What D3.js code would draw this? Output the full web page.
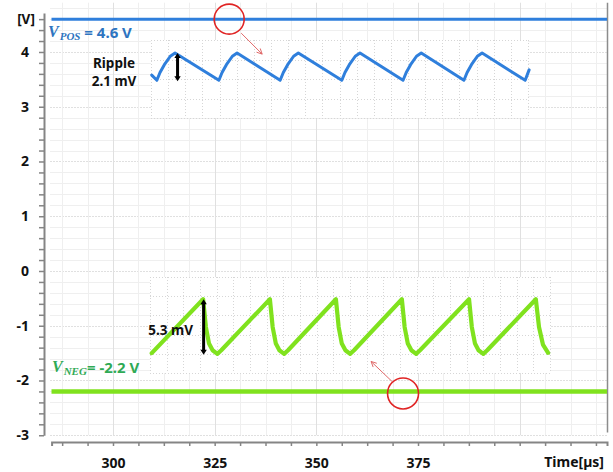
<!DOCTYPE html>
<html>
<head>
<meta charset="utf-8">
<script src="https://cdn.jsdelivr.net/npm/d3@7"></script>
<style>
  html, body { margin: 0; padding: 0; background: #fff; }
  svg { display: block; }
  text { font-family: "Noto Sans", "Open Sans", sans-serif; font-weight: 700; fill: #111; }
</style>
</head>
<body>
<svg id="chart" width="613" height="472"></svg>
<script>
// Supply rails
const railNames = ["POS", "NEG"];
const railVoltages = [4.6, -2.2];          // V
// Peak-to-peak ripple measured on each rail
const rippleAmplitudes = [2.1, 5.3];       // mV
// Labelled axis ticks
const yTickValues = [-3, -2, -1, 0, 1, 2, 3, 4];
const xTickValues = [300, 325, 350, 375];
// Magnified ripple traces: [time in µs, mV above the ripple trough]
const posRipple = [
  [309.52, 0.40], [310.79, 0.00], [311.56, 0.60], [312.63, 1.20], [314.09, 1.85], [315.26, 2.10],
  [326.04, 0.00], [326.82, 0.60], [327.89, 1.20], [329.35, 1.85], [330.51, 2.10],
  [341.10, 0.00], [341.88, 0.60], [342.95, 1.20], [344.41, 1.85], [345.57, 2.10],
  [356.26, 0.00], [357.04, 0.60], [358.11, 1.20], [359.57, 1.85], [360.73, 2.10],
  [371.32, 0.00], [372.10, 0.60], [373.17, 1.20], [374.63, 1.85], [375.79, 2.10],
  [386.29, 0.00], [387.07, 0.60], [388.14, 1.20], [389.59, 1.85], [390.76, 2.10],
  [401.35, 0.00], [402.32, 0.80]
];
const negRipple = [
  [309.52, 0.07],
  [322.16, 5.30], [322.84, 2.60], [323.61, 1.00], [324.49, 0.35], [325.65, 0.00], [326.63, 0.35],
  [338.58, 5.30], [339.26, 2.60], [340.04, 1.00], [340.91, 0.35], [342.08, 0.00], [343.05, 0.35],
  [354.81, 5.30], [355.49, 2.60], [356.26, 1.00], [357.14, 0.35], [358.30, 0.00], [359.28, 0.35],
  [371.03, 5.30], [371.71, 2.60], [372.49, 1.00], [373.37, 0.35], [374.53, 0.00], [375.50, 0.35],
  [387.55, 5.30], [388.23, 2.60], [389.01, 1.00], [389.88, 0.35], [391.05, 0.00], [392.02, 0.35],
  [403.97, 5.30], [404.75, 2.60], [405.72, 0.90], [406.99, 0.10]
];
// Times at which the rails are highlighted
const highlightTimes = [328.57, 371.32];   // µs

const svg = d3.select("#chart");
const blue = "#2f7fdc", green = "#80e21e", red = "#e02424";
const posLabelColor = "#2e74c0", negLabelColor = "#2faa55";

// Main scales
const x = d3.scaleLinear().domain([284.51, 421.47]).range([50, 607]);
const y = d3.scaleLinear().domain([-3, 4.9]).range([435.25, 2.7]);

// ---- background grid ----
const grid = svg.append("g");
const hLines = d3.range(0, 40).map(i => +(-3 + i * 0.2).toFixed(1));
grid.selectAll("line.h").data(hLines).join("line")
  .attr("x1", 50).attr("x2", 607)
  .attr("y1", d => Math.round(y(d)) + 0.5).attr("y2", d => Math.round(y(d)) + 0.5)
  .attr("stroke", d => Number.isInteger(d) ? "#e0e0e0" : "#efefef")
  .attr("stroke-dasharray", d => Number.isInteger(d) ? "2,1" : null);
const tickTimes = d3.range(0, 22).map(i => 287.5 + i * 6.25);
grid.selectAll("line.v").data(tickTimes).join("line")
  .attr("y1", y(4.9)).attr("y2", y(-3))
  .attr("x1", d => Math.round(x(d)) + 0.5).attr("x2", d => Math.round(x(d)) + 0.5)
  .attr("stroke", d => d % 25 === 0 ? "#e0e0e0" : "#efefef");

// right frame line
svg.append("line")
  .attr("x1", 607.5).attr("x2", 607.5).attr("y1", y(4.9)).attr("y2", y(-2.95))
  .attr("stroke", "#8c8c8c").attr("stroke-width", 1.5);

// ---- axes ----
const yAxisScale = y.copy().domain([-3, 4.71]).range([y(-3), y(4.71)]);
const yAxis = d3.axisLeft(yAxisScale)
  .tickValues(d3.range(0, 39).map(i => -3 + i * 0.2))
  .tickSize(5).tickSizeOuter(0).tickPadding(10)
  .tickFormat(d => {
    const r = Math.round(d);
    return Math.abs(d - r) < 1e-6 && yTickValues.includes(r) ? String(r) : "";
  });
const gy = svg.append("g").attr("transform", "translate(44,0)").call(yAxis);
gy.select(".domain").attr("stroke", "#858585").attr("stroke-width", 2);
gy.selectAll(".tick line").attr("stroke", "#858585").attr("stroke-width", 1.5);
gy.selectAll(".tick text").attr("font-size", 14).attr("fill", "#111")
  .attr("font-family", "'Noto Sans', sans-serif").attr("font-weight", 700);
svg.append("text").attr("x", 26).attr("y", y(4.6) + 5)
  .attr("text-anchor", "middle").attr("font-size", 13.5).text("[V]");

const xAxisScale = x.copy().domain([284.9, 421.47]).range([x(284.9), x(421.47)]);
const xAxis = d3.axisBottom(xAxisScale)
  .tickValues(tickTimes)
  .tickSize(4).tickSizeOuter(4).tickPadding(12)
  .tickFormat(d => xTickValues.includes(d) ? String(d) : "");
const gx = svg.append("g").attr("transform", "translate(0,442)").call(xAxis);
gx.select(".domain").attr("stroke", "#858585").attr("stroke-width", 2).attr("fill", "none");
gx.selectAll(".tick line").attr("stroke", "#858585").attr("stroke-width", 1.5);
gx.selectAll(".tick text").attr("font-size", 14).attr("fill", "#111")
  .attr("font-family", "'Noto Sans', sans-serif").attr("font-weight", 700);
svg.append("text").attr("x", 604).attr("y", 467)
  .attr("text-anchor", "end").attr("font-size", 14).text("Time[µs]");

// ---- magnified ripple insets ----
const insetSpecs = [
  { data: posRipple, amp: rippleAmplitudes[0], color: blue, width: 3,
    box: [151, 40, 528, 118], mv: [-2.9, 3.1], cols: 22, rows: 4, arrowDx: 2.5 },
  { data: negRipple, amp: rippleAmplitudes[1], color: green, width: 4.2,
    box: [150, 277, 550, 373], mv: [-1.86, 7.46], cols: 24, rows: 5, arrowDx: 0.5 }
];

insetSpecs.forEach(s => {
  const [bx0, by0, bx1, by1] = s.box;
  const iy = d3.scaleLinear().domain(s.mv).range([by1, by0]);
  const g = svg.append("g");
  g.append("rect").attr("x", bx0).attr("y", by0)
    .attr("width", bx1 - bx0).attr("height", by1 - by0).attr("fill", "#fff");
  const cx = d3.range(s.cols + 1).map(i => bx0 + i * (bx1 - bx0) / s.cols);
  const cy = d3.range(s.rows + 1).map(i => by0 + i * (by1 - by0) / s.rows);
  g.selectAll("line.iv").data(cx).join("line")
    .attr("x1", d => Math.round(d) + 0.5).attr("x2", d => Math.round(d) + 0.5)
    .attr("y1", by0).attr("y2", by1)
    .attr("stroke", "#d6d6d6").attr("stroke-dasharray", "1,2");
  g.selectAll("line.ih").data(cy).join("line")
    .attr("y1", d => Math.round(d) + 0.5).attr("y2", d => Math.round(d) + 0.5)
    .attr("x1", bx0).attr("x2", bx1)
    .attr("stroke", "#d6d6d6").attr("stroke-dasharray", "1,2");

  const line = d3.line().x(d => x(d[0])).y(d => iy(d[1]));
  g.append("path").datum(s.data).attr("d", line)
    .attr("fill", "none").attr("stroke", s.color).attr("stroke-width", s.width)
    .attr("stroke-linejoin", "round").attr("stroke-linecap", "round");

  // double-headed ripple arrow spanning trough to peak
  const peak = s.data.find(d => d[1] === d3.max(s.data, e => e[1]));
  const ax = x(peak[0]) + s.arrowDx;
  const yTop = iy(s.amp), yBot = iy(0) + 1;
  g.append("line").attr("x1", ax).attr("x2", ax).attr("y1", yTop + 3).attr("y2", yBot - 3)
    .attr("stroke", "#000").attr("stroke-width", 3);
  g.append("path").attr("fill", "#000")
    .attr("d", `M${ax},${yTop} L${ax - 3.2},${yTop + 5} L${ax + 3.2},${yTop + 5} Z`);
  g.append("path").attr("fill", "#000")
    .attr("d", `M${ax},${yBot} L${ax - 3.2},${yBot - 5} L${ax + 3.2},${yBot - 5} Z`);
});

// ripple annotations
svg.append("text").attr("x", 114).attr("y", 68).attr("text-anchor", "middle")
  .attr("font-size", 13.5).text("Ripple");
svg.append("text").attr("x", 114).attr("y", 86).attr("text-anchor", "middle")
  .attr("font-size", 13.5).text(`${rippleAmplitudes[0]} mV`);
svg.append("text").attr("x", 193).attr("y", 335).attr("text-anchor", "end")
  .attr("font-size", 13.5).text(`${rippleAmplitudes[1]} mV`);

// ---- supply rails ----
const railColors = [blue, green];
const railWidths = [3, 4.6];
railVoltages.forEach((v, i) => {
  svg.append("line")
    .attr("x1", 51.5).attr("x2", 607).attr("y1", y(v)).attr("y2", y(v))
    .attr("stroke", railColors[i]).attr("stroke-width", railWidths[i]);
});

// rail labels
const railLabelPos = [[48, 37], [52, 372]];
const railLabelColors = [posLabelColor, negLabelColor];
railNames.forEach((name, i) => {
  const [lx, ly] = railLabelPos[i];
  const t = svg.append("text").attr("x", lx).attr("y", ly).attr("fill", railLabelColors[i]);
  t.append("tspan").attr("font-family", "'Liberation Serif', serif").attr("font-style", "italic")
    .attr("font-weight", 700).attr("font-size", 16).attr("fill", railLabelColors[i]).text("V");
  t.append("tspan").attr("font-family", "'Liberation Serif', serif").attr("font-style", "italic")
    .attr("font-weight", 700).attr("font-size", 11).attr("dy", 3).attr("dx", 1)
    .attr("fill", railLabelColors[i]).text(name);
  t.append("tspan").attr("font-size", 15).attr("dy", -2).attr("fill", railLabelColors[i])
    .text(i === 0 ? ` = ${railVoltages[i]} V` : `= ${railVoltages[i]} V`);
});

// ---- highlight circles with pointer arrows ----
const circleR = [15, 15.5];
const pointer = [[[12, 14], [33, 35]], [[-11, -12], [-32, -32]]];
highlightTimes.forEach((t, i) => {
  const cx = x(t), cy = y(railVoltages[i]) + (i === 1 ? 2 : 0);
  svg.append("circle").attr("cx", cx).attr("cy", cy).attr("r", circleR[i])
    .attr("fill", "none").attr("stroke", red).attr("stroke-width", 1.6);
  const [[sx, sy], [ex, ey]] = pointer[i];
  const x1 = cx + sx, y1 = cy + sy, x2 = cx + ex, y2 = cy + ey;
  svg.append("line").attr("x1", x1).attr("y1", y1).attr("x2", x2).attr("y2", y2)
    .attr("stroke", "#e06a6a").attr("stroke-width", 1);
  const ang = Math.atan2(y2 - y1, x2 - x1), L = 6, spread = 0.45;
  const p1 = [x2 - L * Math.cos(ang - spread), y2 - L * Math.sin(ang - spread)];
  const p2 = [x2 - L * Math.cos(ang + spread), y2 - L * Math.sin(ang + spread)];
  svg.append("path")
    .attr("d", `M${p1[0]},${p1[1]} L${x2},${y2} L${p2[0]},${p2[1]}`)
    .attr("fill", "none").attr("stroke", "#e06a6a").attr("stroke-width", 1);
});
</script>
</body>
</html>
